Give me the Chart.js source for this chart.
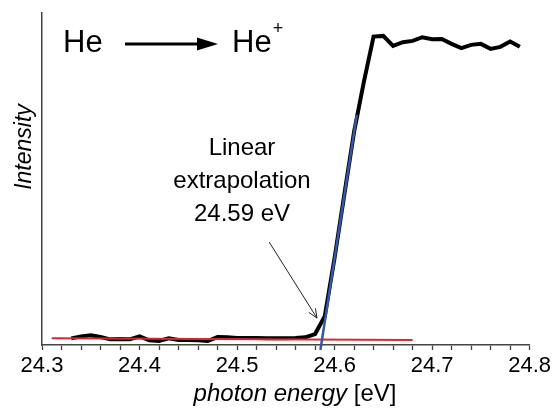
<!DOCTYPE html>
<html>
<head>
<meta charset="utf-8">
<script src="https://cdn.jsdelivr.net/npm/chart.js@4"></script>
<style>
  html, body { margin: 0; padding: 0; background: #fff; }
  #wrap { width: 554px; height: 409px; }
</style>
</head>
<body>
<div id="wrap"><canvas id="chart" width="554" height="409"></canvas></div>
<script>
// measured spectrum (photon energy in eV, intensity in arbitrary units)
const energy = [
  24.33, 24.34, 24.35, 24.36, 24.37, 24.38, 24.39, 24.40, 24.41, 24.42,
  24.43, 24.44, 24.45, 24.46, 24.47, 24.48, 24.49, 24.50, 24.51, 24.52,
  24.53, 24.54, 24.55, 24.56, 24.57, 24.58, 24.59, 24.60, 24.61, 24.62,
  24.63, 24.64, 24.65, 24.66, 24.67, 24.68, 24.69, 24.70, 24.71, 24.72,
  24.73, 24.74, 24.75, 24.76, 24.77, 24.78, 24.79
];
const intensity = [
  2.0, 2.6, 2.9, 2.4, 1.7, 1.8, 1.7, 2.6, 1.4, 1.2,
  2.0, 1.5, 1.5, 1.4, 1.2, 2.4, 2.3, 2.1, 2.1, 2.1,
  2.0, 2.0, 2.0, 2.1, 2.3, 3.3, 8.7, 26.2, 45.3, 64.2,
  79.2, 92.9, 93.1, 90.1, 91.2, 91.6, 92.7, 92.1, 92.2, 90.7,
  89.4, 90.4, 90.7, 89.2, 89.8, 91.4, 89.8
];

// baseline fit (red) and edge fit (blue)
const baseFitEnergy = [24.31, 24.68];
const baseFitIntensity = [2.0, 1.5];
const edgeFitEnergy = [24.5855, 24.6228];
const edgeFitIntensity = [-1.5, 69.3];

// axis ticks
const xMin = 24.3;
const xMax = 24.8;
const xStep = 0.02;
const yMin = 0;
const yMax = 100;

// annotation arrow: from text to the onset (data coords)
const arrowFrom = { x: 24.533, y: 31 };
const arrowTo = { x: 24.582, y: 8.1 };

const FONT = "'Liberation Sans', Arial, sans-serif";

function toPoints(xs, ys) {
  return xs.map((x, i) => ({ x: x, y: ys[i] }));
}

const textPlugin = {
  id: 'texts',
  afterDraw(chart) {
    const ctx = chart.ctx;
    const xs = chart.scales.x;
    const ys = chart.scales.y;
    ctx.save();
    ctx.fillStyle = '#000';
    ctx.strokeStyle = '#000';

    // He -> He+
    ctx.font = '31px ' + FONT;
    ctx.textAlign = 'left';
    ctx.textBaseline = 'alphabetic';
    ctx.fillText('He', 63, 52);
    ctx.fillText('He', 232, 52);
    const heW = ctx.measureText('He').width;
    ctx.font = '18px ' + FONT;
    ctx.fillText('+', 232 + heW + 1, 34);
    ctx.lineWidth = 3;
    ctx.beginPath();
    ctx.moveTo(125, 44);
    ctx.lineTo(200, 44);
    ctx.stroke();
    ctx.beginPath();
    ctx.moveTo(218, 44);
    ctx.lineTo(197, 37.5);
    ctx.lineTo(197, 50.5);
    ctx.closePath();
    ctx.fill();

    // annotation text
    ctx.font = '24px ' + FONT;
    ctx.textAlign = 'center';
    ctx.fillText('Linear', 242, 155);
    ctx.fillText('extrapolation', 242, 188);
    ctx.fillText('24.59 eV', 242, 221);

    // annotation arrow
    const x1 = xs.getPixelForValue(arrowFrom.x), y1 = ys.getPixelForValue(arrowFrom.y);
    const x2 = xs.getPixelForValue(arrowTo.x), y2 = ys.getPixelForValue(arrowTo.y);
    const ang = Math.atan2(y2 - y1, x2 - x1);
    ctx.strokeStyle = '#222';
    ctx.lineWidth = 1;
    ctx.beginPath();
    ctx.moveTo(x1, y1);
    ctx.lineTo(x2, y2);
    ctx.moveTo(x2 - 10 * Math.cos(ang - 0.4), y2 - 10 * Math.sin(ang - 0.4));
    ctx.lineTo(x2, y2);
    ctx.lineTo(x2 - 10 * Math.cos(ang + 0.4), y2 - 10 * Math.sin(ang + 0.4));
    ctx.stroke();

    // x axis title: italic part + normal part
    ctx.fillStyle = '#000';
    ctx.textAlign = 'left';
    const part1 = 'photon energy';
    const part2 = ' [eV]';
    ctx.font = 'italic 24px ' + FONT;
    const w1 = ctx.measureText(part1).width;
    ctx.font = '24px ' + FONT;
    const w2 = ctx.measureText(part2).width;
    const startX = 295 - (w1 + w2) / 2;
    ctx.font = 'italic 24px ' + FONT;
    ctx.fillText(part1, startX, 401);
    ctx.font = '24px ' + FONT;
    ctx.fillText(part2, startX + w1, 401);

    // y axis title
    ctx.translate(31, 147);
    ctx.rotate(-Math.PI / 2);
    ctx.textAlign = 'center';
    ctx.font = 'italic 23px ' + FONT;
    ctx.fillText('Intensity', 0, 0);
    ctx.restore();
  }
};

new Chart(document.getElementById('chart'), {
  type: 'line',
  data: {
    datasets: [
      {
        data: toPoints(energy, intensity),
        borderColor: '#000',
        borderWidth: 4,
        pointRadius: 0,
        tension: 0,
        order: 3
      },
      {
        data: toPoints(baseFitEnergy, baseFitIntensity),
        borderColor: '#d42a33',
        borderWidth: 2,
        pointRadius: 0,
        order: 2
      },
      {
        data: toPoints(edgeFitEnergy, edgeFitIntensity),
        borderColor: '#3557a6',
        borderWidth: 2.5,
        pointRadius: 0,
        clip: false,
        order: 1
      }
    ]
  },
  options: {
    responsive: false,
    animation: false,
    events: [],
    layout: { padding: { left: 42, right: 22, top: 13, bottom: 0 } },
    plugins: {
      legend: { display: false },
      tooltip: { enabled: false }
    },
    scales: {
      x: {
        type: 'linear',
        min: xMin,
        max: xMax,
        afterFit: (scale) => { scale.height = 64; },
        ticks: {
          stepSize: xStep,
          autoSkip: false,
          maxRotation: 0,
          padding: 3,
          color: '#000',
          font: { family: FONT, size: 22 },
          callback: (v) => {
            const r = Math.round(v * 100);
            return r % 10 === 0 ? (r / 100).toFixed(1) : '';
          }
        },
        grid: {
          drawOnChartArea: false,
          drawTicks: true,
          tickLength: 5,
          tickColor: '#444',
          tickWidth: 1.3
        },
        border: { display: true, color: '#444', width: 1.5 }
      },
      y: {
        min: yMin,
        max: yMax,
        afterFit: (scale) => { scale.width = 0; },
        ticks: { display: false },
        grid: { display: false },
        border: { display: true, color: '#444', width: 1.5 }
      }
    }
  },
  plugins: [textPlugin]
});
</script>
</body>
</html>
